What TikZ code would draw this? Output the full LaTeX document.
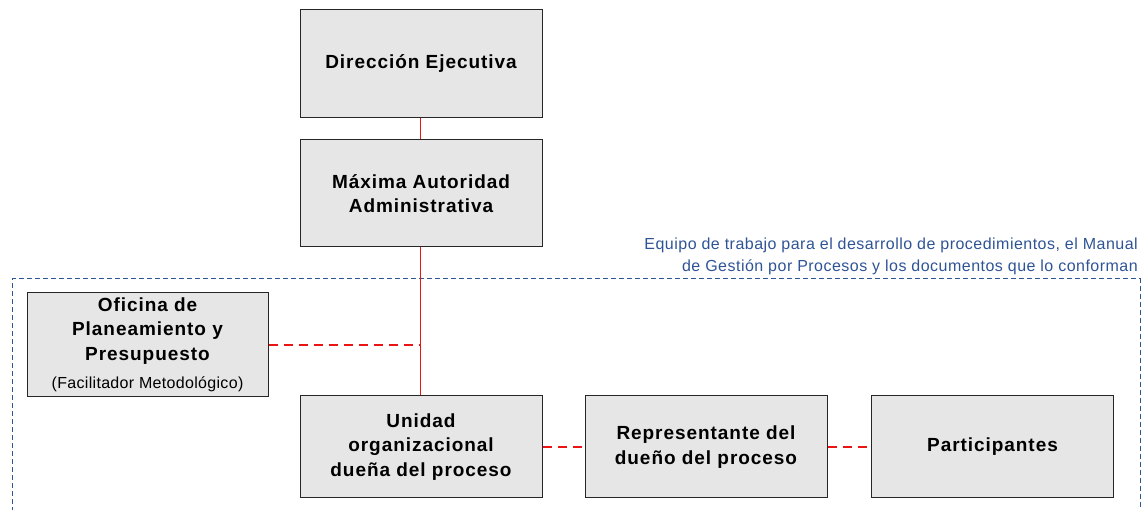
\documentclass[tikz,border=0pt]{standalone}
\usepackage{fontspec}
\setmainfont{Liberation Sans}
\definecolor{boxfill}{RGB}{230,230,230}
\definecolor{teamblue}{RGB}{47,84,150}
\definecolor{linkred}{RGB}{235,20,20}
\begin{document}
\begin{tikzpicture}[x=1pt,y=-1pt,
  orgbox/.style={draw=black!85,line width=1pt,fill=boxfill,align=center,inner sep=0pt,
    font=\fontsize{19}{24.5}\selectfont\bfseries\addfontfeature{LetterSpace=5}},
  solidlink/.style={draw=linkred,line width=1.2pt},
  dashlink/.style={draw=linkred,line width=1.2pt,dash pattern=on 9pt off 6pt},
  teamframe/.style={draw=teamblue,line width=1pt,dash pattern=on 5pt off 3pt}]
\useasboundingbox (0,0) rectangle (1144,510);
\node[orgbox,minimum width=242pt,minimum height=108pt] (d) at (421,64) {Dirección Ejecutiva};
\node[orgbox,minimum width=242pt,minimum height=107pt] (m) at (421,193.5) {Máxima Autoridad\\Administrativa};
\node[orgbox,minimum width=241pt,minimum height=104pt] (o) at (147.5,345)
  {\fontsize{19}{25.5}\selectfont Oficina de\\Planeamiento y\\Presupuesto\\[4pt]{\fontsize{16}{20}\selectfont\mdseries\addfontfeature{LetterSpace=2} (Facilitador Metodológico)}};
\node[orgbox,minimum width=242pt,minimum height=102pt] (u) at (421,447) {Unidad\\organizacional\\dueña del proceso};
\node[orgbox,minimum width=242pt,minimum height=102pt] (r) at (706,447) {Representante del\\dueño del proceso};
\node[orgbox,minimum width=242pt,minimum height=102pt] (p) at (992.5,447) {Participantes};
\coordinate (j) at (420.5,345);
\draw[teamframe] (12,520) -- (12,279) -- (1140,279) -- (1140,520);
\node[anchor=north east,align=right,inner sep=0pt,text=teamblue,font=\fontsize{16}{22}\selectfont\addfontfeature{LetterSpace=3}] (t) at (1138,238)
  {Equipo de trabajo para el desarrollo de procedimientos, el Manual\\de Gestión por Procesos y los documentos que lo conforman};
\draw[solidlink] (d.south -| j) -- (m.north -| j);
\draw[solidlink] (m.south -| j) -- (u.north -| j);
\draw[dashlink] (o) -- (j);
\draw[dashlink] (u) -- (r);
\draw[dashlink] (r) -- (p);
\end{tikzpicture}
\end{document}
